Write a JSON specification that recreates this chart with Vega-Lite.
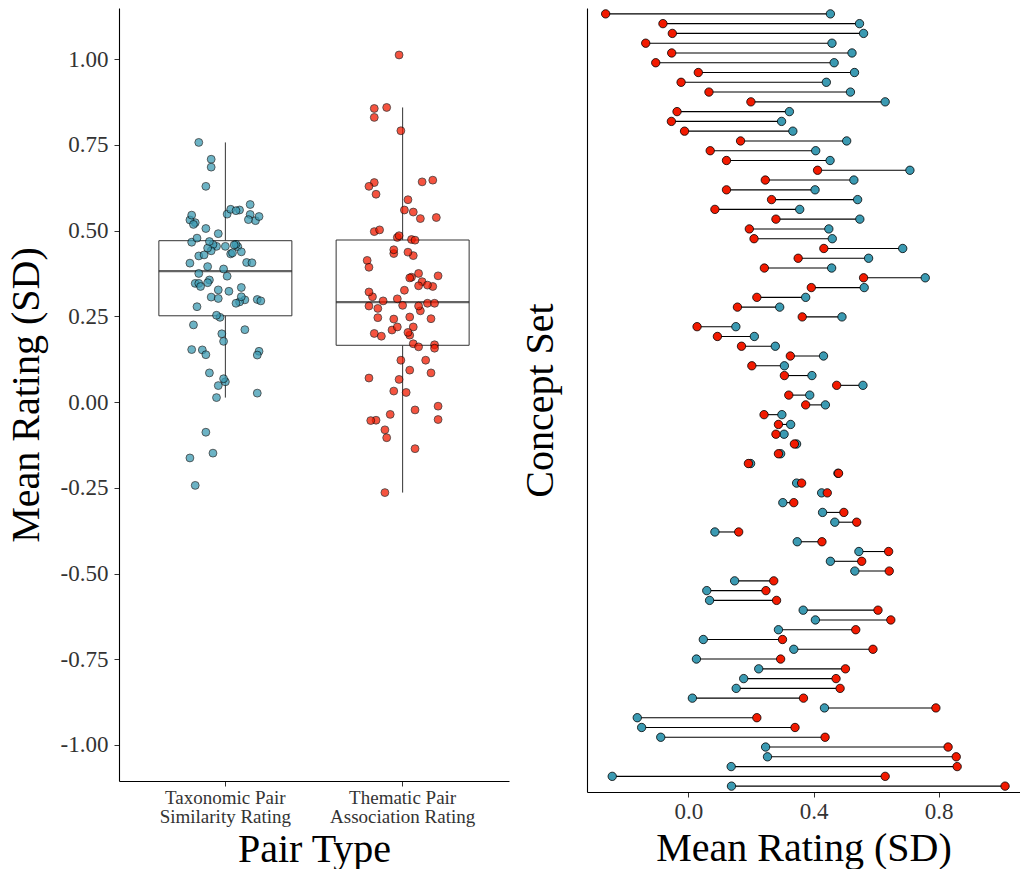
{
"$schema": "https://vega.github.io/schema/vega-lite/v6.json",
"padding": {"left": 6, "top": 8, "right": 0, "bottom": 0},
"background": "white",
"config": {
  "font": "Liberation Serif",
  "view": {"stroke": null},
  "axis": {"domainColor": "black", "domainWidth": 1.1, "tickColor": "#333", "tickSize": 5, "labelColor": "#333", "labelFontSize": 23, "titleFontSize": 40, "titleFontWeight": "normal", "titleColor": "black", "grid": false, "labelFont": "Liberation Serif", "titleFont": "Liberation Serif"},
  "concat": {"spacing": 11}
},
"datasets": {"ratings": [
{"set":1,"type":"Taxonomic","rating":0.454,"jitter":-0.05},
{"set":2,"type":"Taxonomic","rating":0.547,"jitter":0.14},
{"set":3,"type":"Taxonomic","rating":0.560,"jitter":0.08},
{"set":4,"type":"Taxonomic","rating":0.459,"jitter":-0.07},
{"set":5,"type":"Taxonomic","rating":0.523,"jitter":-0.17},
{"set":6,"type":"Taxonomic","rating":0.466,"jitter":-0.19},
{"set":7,"type":"Taxonomic","rating":0.531,"jitter":-0.2},
{"set":8,"type":"Taxonomic","rating":0.441,"jitter":-0.08},
{"set":9,"type":"Taxonomic","rating":0.518,"jitter":-0.18},
{"set":10,"type":"Taxonomic","rating":0.629,"jitter":-0.11},
{"set":11,"type":"Taxonomic","rating":0.323,"jitter":0.02},
{"set":12,"type":"Taxonomic","rating":0.298,"jitter":0.11},
{"set":13,"type":"Taxonomic","rating":0.334,"jitter":0.09},
{"set":14,"type":"Taxonomic","rating":0.506,"jitter":-0.11},
{"set":15,"type":"Taxonomic","rating":0.407,"jitter":0.12},
{"set":16,"type":"Taxonomic","rating":0.453,"jitter":0.07},
{"set":17,"type":"Taxonomic","rating":0.708,"jitter":-0.08},
{"set":18,"type":"Taxonomic","rating":0.529,"jitter":0.17},
{"set":19,"type":"Taxonomic","rating":0.405,"jitter":-0.2},
{"set":20,"type":"Taxonomic","rating":0.541,"jitter":0.19},
{"set":21,"type":"Taxonomic","rating":0.356,"jitter":-0.09},
{"set":22,"type":"Taxonomic","rating":0.548,"jitter":0.01},
{"set":23,"type":"Taxonomic","rating":0.449,"jitter":-0.1},
{"set":24,"type":"Taxonomic","rating":0.460,"jitter":0.06},
{"set":25,"type":"Taxonomic","rating":0.685,"jitter":-0.08},
{"set":26,"type":"Taxonomic","rating":0.576,"jitter":0.14},
{"set":27,"type":"Taxonomic","rating":0.458,"jitter":0.05},
{"set":28,"type":"Taxonomic","rating":0.757,"jitter":-0.15},
{"set":29,"type":"Taxonomic","rating":0.562,"jitter":0.03},
{"set":30,"type":"Taxonomic","rating":0.375,"jitter":-0.15},
{"set":31,"type":"Taxonomic","rating":0.292,"jitter":0.08},
{"set":32,"type":"Taxonomic","rating":0.491,"jitter":-0.04},
{"set":33,"type":"Taxonomic","rating":0.152,"jitter":-0.13},
{"set":34,"type":"Taxonomic","rating":0.211,"jitter":0.11},
{"set":35,"type":"Taxonomic","rating":0.278,"jitter":-0.16},
{"set":36,"type":"Taxonomic","rating":0.432,"jitter":0.03},
{"set":37,"type":"Taxonomic","rating":0.307,"jitter":0.09},
{"set":38,"type":"Taxonomic","rating":0.395,"jitter":-0.1},
{"set":39,"type":"Taxonomic","rating":0.558,"jitter":0.06},
{"set":40,"type":"Taxonomic","rating":0.388,"jitter":-0.01},
{"set":41,"type":"Taxonomic","rating":0.438,"jitter":0.09},
{"set":42,"type":"Taxonomic","rating":0.299,"jitter":0.18},
{"set":43,"type":"Taxonomic","rating":0.327,"jitter":-0.04},
{"set":44,"type":"Taxonomic","rating":0.306,"jitter":-0.08},
{"set":45,"type":"Taxonomic","rating":0.346,"jitter":-0.17},
{"set":46,"type":"Taxonomic","rating":0.295,"jitter":0.2},
{"set":47,"type":"Taxonomic","rating":0.199,"jitter":-0.02},
{"set":48,"type":"Taxonomic","rating":0.478,"jitter":-0.16},
{"set":49,"type":"Taxonomic","rating":0.346,"jitter":-0.15},
{"set":50,"type":"Taxonomic","rating":0.426,"jitter":-0.15},
{"set":51,"type":"Taxonomic","rating":0.302,"jitter":-0.04},
{"set":52,"type":"Taxonomic","rating":0.429,"jitter":-0.12},
{"set":53,"type":"Taxonomic","rating":0.468,"jitter":-0.09},
{"set":54,"type":"Taxonomic","rating":0.085,"jitter":-0.09},
{"set":55,"type":"Taxonomic","rating":0.348,"jitter":-0.1},
{"set":56,"type":"Taxonomic","rating":0.545,"jitter":-0.19},
{"set":57,"type":"Taxonomic","rating":0.454,"jitter":0},
{"set":58,"type":"Taxonomic","rating":0.532,"jitter":0.13},
{"set":59,"type":"Taxonomic","rating":0.148,"jitter":0.19},
{"set":60,"type":"Taxonomic","rating":0.059,"jitter":0},
{"set":61,"type":"Taxonomic","rating":0.068,"jitter":-0.01},
{"set":62,"type":"Taxonomic","rating":0.367,"jitter":0.01},
{"set":63,"type":"Taxonomic","rating":0.406,"jitter":0.15},
{"set":64,"type":"Taxonomic","rating":0.288,"jitter":0.06},
{"set":65,"type":"Taxonomic","rating":0.048,"jitter":-0.04},
{"set":66,"type":"Taxonomic","rating":0.337,"jitter":-0.14},
{"set":67,"type":"Taxonomic","rating":0.026,"jitter":0.18},
{"set":68,"type":"Taxonomic","rating":0.225,"jitter":-0.18},
{"set":69,"type":"Taxonomic","rating":0.177,"jitter":-0.01},
{"set":70,"type":"Taxonomic","rating":0.153,"jitter":-0.19},
{"set":71,"type":"Taxonomic","rating":0.013,"jitter":-0.05},
{"set":72,"type":"Taxonomic","rating":0.435,"jitter":0.04},
{"set":73,"type":"Taxonomic","rating":-0.163,"jitter":-0.2},
{"set":74,"type":"Taxonomic","rating":-0.149,"jitter":-0.07},
{"set":75,"type":"Taxonomic","rating":-0.088,"jitter":-0.11},
{"set":76,"type":"Taxonomic","rating":0.247,"jitter":-0.03},
{"set":77,"type":"Taxonomic","rating":0.253,"jitter":-0.05},
{"set":78,"type":"Taxonomic","rating":0.137,"jitter":0.18},
{"set":79,"type":"Taxonomic","rating":-0.243,"jitter":-0.17},
{"set":80,"type":"Taxonomic","rating":0.138,"jitter":-0.11},
{"set":1,"type":"Thematic","rating":-0.264,"jitter":-0.1},
{"set":2,"type":"Thematic","rating":-0.081,"jitter":-0.1},
{"set":3,"type":"Thematic","rating":-0.051,"jitter":0.2},
{"set":4,"type":"Thematic","rating":-0.136,"jitter":0.07},
{"set":5,"type":"Thematic","rating":-0.053,"jitter":-0.15},
{"set":6,"type":"Thematic","rating":-0.104,"jitter":-0.09},
{"set":7,"type":"Thematic","rating":0.032,"jitter":-0.05},
{"set":8,"type":"Thematic","rating":-0.023,"jitter":0.07},
{"set":9,"type":"Thematic","rating":0.066,"jitter":-0.02},
{"set":10,"type":"Thematic","rating":0.200,"jitter":-0.16},
{"set":11,"type":"Thematic","rating":-0.036,"jitter":-0.07},
{"set":12,"type":"Thematic","rating":-0.054,"jitter":-0.18},
{"set":13,"type":"Thematic","rating":-0.012,"jitter":0.2},
{"set":14,"type":"Thematic","rating":0.167,"jitter":0.18},
{"set":15,"type":"Thematic","rating":0.070,"jitter":-0.19},
{"set":16,"type":"Thematic","rating":0.122,"jitter":-0.01},
{"set":17,"type":"Thematic","rating":0.413,"jitter":-0.2},
{"set":18,"type":"Thematic","rating":0.246,"jitter":-0.14},
{"set":19,"type":"Thematic","rating":0.122,"jitter":0.13},
{"set":20,"type":"Thematic","rating":0.266,"jitter":0.1},
{"set":21,"type":"Thematic","rating":0.085,"jitter":0.16},
{"set":22,"type":"Thematic","rating":0.280,"jitter":0.09},
{"set":23,"type":"Thematic","rating":0.195,"jitter":0.04},
{"set":24,"type":"Thematic","rating":0.210,"jitter":-0.06},
{"set":25,"type":"Thematic","rating":0.433,"jitter":-0.05},
{"set":26,"type":"Thematic","rating":0.351,"jitter":0.11},
{"set":27,"type":"Thematic","rating":0.243,"jitter":0.16},
{"set":28,"type":"Thematic","rating":0.560,"jitter":0.01},
{"set":29,"type":"Thematic","rating":0.393,"jitter":-0.19},
{"set":30,"type":"Thematic","rating":0.219,"jitter":0.06},
{"set":31,"type":"Thematic","rating":0.157,"jitter":0.18},
{"set":32,"type":"Thematic","rating":0.364,"jitter":0.05},
{"set":33,"type":"Thematic","rating":0.028,"jitter":0.02},
{"set":34,"type":"Thematic","rating":0.093,"jitter":0.04},
{"set":35,"type":"Thematic","rating":0.170,"jitter":0.06},
{"set":36,"type":"Thematic","rating":0.326,"jitter":0.01},
{"set":37,"type":"Thematic","rating":0.203,"jitter":0.03},
{"set":38,"type":"Thematic","rating":0.307,"jitter":-0.17},
{"set":39,"type":"Thematic","rating":0.474,"jitter":0.05},
{"set":40,"type":"Thematic","rating":0.321,"jitter":-0.19},
{"set":41,"type":"Thematic","rating":0.375,"jitter":0.09},
{"set":42,"type":"Thematic","rating":0.242,"jitter":-0.05},
{"set":43,"type":"Thematic","rating":0.288,"jitter":0.14},
{"set":44,"type":"Thematic","rating":0.280,"jitter":-0.19},
{"set":45,"type":"Thematic","rating":0.339,"jitter":0.09},
{"set":46,"type":"Thematic","rating":0.288,"jitter":0.18},
{"set":47,"type":"Thematic","rating":0.192,"jitter":-0.12},
{"set":48,"type":"Thematic","rating":0.480,"jitter":-0.03},
{"set":49,"type":"Thematic","rating":0.362,"jitter":0.04},
{"set":50,"type":"Thematic","rating":0.444,"jitter":-0.05},
{"set":51,"type":"Thematic","rating":0.337,"jitter":0.17},
{"set":52,"type":"Thematic","rating":0.497,"jitter":-0.16},
{"set":53,"type":"Thematic","rating":0.538,"jitter":0.19},
{"set":54,"type":"Thematic","rating":0.161,"jitter":0.09},
{"set":55,"type":"Thematic","rating":0.427,"jitter":0.06},
{"set":56,"type":"Thematic","rating":0.640,"jitter":-0.16},
{"set":57,"type":"Thematic","rating":0.554,"jitter":0.06},
{"set":58,"type":"Thematic","rating":0.642,"jitter":0.11},
{"set":59,"type":"Thematic","rating":0.273,"jitter":-0.14},
{"set":60,"type":"Thematic","rating":0.248,"jitter":0.04},
{"set":61,"type":"Thematic","rating":0.282,"jitter":0},
{"set":62,"type":"Thematic","rating":0.606,"jitter":-0.15},
{"set":63,"type":"Thematic","rating":0.647,"jitter":0.17},
{"set":64,"type":"Thematic","rating":0.535,"jitter":0.1},
{"set":65,"type":"Thematic","rating":0.301,"jitter":-0.03},
{"set":66,"type":"Thematic","rating":0.590,"jitter":0.03},
{"set":67,"type":"Thematic","rating":0.295,"jitter":-0.11},
{"set":68,"type":"Thematic","rating":0.502,"jitter":-0.13},
{"set":69,"type":"Thematic","rating":0.472,"jitter":0.07},
{"set":70,"type":"Thematic","rating":0.485,"jitter":-0.02},
{"set":71,"type":"Thematic","rating":0.368,"jitter":0.2},
{"set":72,"type":"Thematic","rating":0.791,"jitter":-0.01},
{"set":73,"type":"Thematic","rating":0.219,"jitter":-0.03},
{"set":74,"type":"Thematic","rating":0.341,"jitter":0.14},
{"set":75,"type":"Thematic","rating":0.437,"jitter":0.03},
{"set":76,"type":"Thematic","rating":0.830,"jitter":-0.16},
{"set":77,"type":"Thematic","rating":0.856,"jitter":-0.16},
{"set":78,"type":"Thematic","rating":0.859,"jitter":-0.09},
{"set":79,"type":"Thematic","rating":0.629,"jitter":-0.19},
{"set":80,"type":"Thematic","rating":1.012,"jitter":-0.02}
]},
"data": {"name": "ratings"},
"hconcat": [
  {
    "width": 390,
    "height": 773,
    "layer": [
      {
        "mark": {"type": "boxplot", "extent": 1.5, "size": 133, "outliers": false, "ticks": false,
                 "box": {"fill": "white", "stroke": "#333", "strokeWidth": 1},
                 "median": {"color": "#222", "thickness": 2.2, "strokeWidth": 2},
                 "rule": {"color": "#333", "strokeWidth": 1}},
        "encoding": {
          "x": {"field": "type", "type": "nominal",
                "scale": {"domain": ["Taxonomic", "Thematic"], "paddingInner": 0, "paddingOuter": 0.1},
                "axis": {"title": "Pair Type", "labelAngle": 0, "labelFontSize": 19, "labelLineHeight": 19, "labelPadding": 2, "titlePadding": 3,
                         "labelExpr": "datum.value == 'Taxonomic' ? ['Taxonomic Pair', 'Similarity Rating'] : ['Thematic Pair', 'Association Rating']"}},
          "y": {"field": "rating", "type": "quantitative",
                "scale": {"domain": [-1.105, 1.149], "nice": false, "zero": false},
                "axis": {"title": "Mean Rating (SD)", "values": [-1, -0.75, -0.5, -0.25, 0, 0.25, 0.5, 0.75, 1], "labelPadding": 6, "titlePadding": 14,
                         "labelExpr": "(datum.value < 0 ? '-' : '') + format(abs(datum.value), '.2f')"}}
        }
      },
      {
        "mark": {"type": "circle", "size": 62, "opacity": 0.75, "stroke": "black", "strokeWidth": 0.8},
        "encoding": {
          "x": {"field": "type", "type": "nominal"},
          "xOffset": {"field": "jitter", "type": "quantitative", "scale": {"domain": [-0.5, 0.5]}},
          "y": {"field": "rating", "type": "quantitative"},
          "fill": {"field": "type", "type": "nominal", "scale": {"domain": ["Taxonomic", "Thematic"], "range": ["#3B9AB2", "#F21A00"]}, "legend": null}
        }
      }
    ]
  },
  {
    "width": 433,
    "height": 784,
    "layer": [
      {
        "mark": {"type": "rule", "color": "black", "strokeWidth": 1.1},
        "encoding": {
          "y": {"field": "set", "type": "ordinal", "scale": {"type": "point", "padding": 0.6},
                "axis": {"title": "Concept Set", "labels": false, "ticks": false, "tickSize": 0, "titlePadding": 27}},
          "x": {"aggregate": "min", "field": "rating", "type": "quantitative",
                "scale": {"domain": [-0.3236, 1.0597], "nice": false, "zero": false},
                "axis": {"title": "Mean Rating (SD)", "values": [0, 0.4, 0.8], "format": ".1f", "labelPadding": 3, "titlePadding": 5}},
          "x2": {"aggregate": "max", "field": "rating"}
        }
      },
      {
        "mark": {"type": "circle", "size": 70, "opacity": 1, "stroke": "black", "strokeWidth": 0.8},
        "encoding": {
          "y": {"field": "set", "type": "ordinal"},
          "x": {"field": "rating", "type": "quantitative", "axis": {"title": "Mean Rating (SD)"}},
          "fill": {"field": "type", "type": "nominal", "scale": {"domain": ["Taxonomic", "Thematic"], "range": ["#3B9AB2", "#F21A00"]}, "legend": null}
        }
      }
    ]
  }
]
}
